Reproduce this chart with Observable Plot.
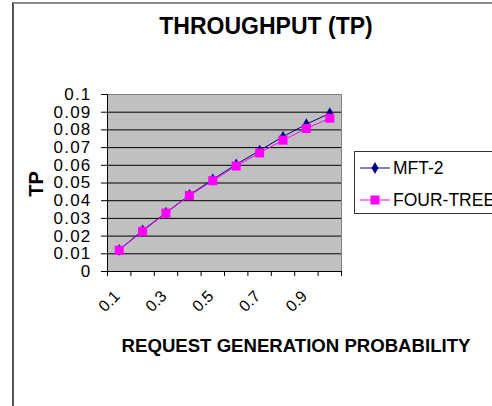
<!DOCTYPE html>
<html>
<head>
<meta charset="utf-8">
<script src="https://cdn.jsdelivr.net/npm/d3@7"></script>
<script src="https://cdn.jsdelivr.net/npm/@observablehq/plot@0.6"></script>
<style>
  html, body { margin: 0; padding: 0; background: #fff; }
  body { width: 492px; height: 406px; overflow: hidden; position: relative; font-family: "Liberation Sans", Arial, sans-serif; }
  #frame { position: absolute; left: 12px; top: 2px; width: 600px; height: 500px; border-left: 2px solid #555; border-top: 2px solid #8a8a8a; }
  #chart { position: absolute; left: 0; top: 0; }
  .txt { position: absolute; white-space: nowrap; color: #000; font-weight: bold; line-height: 1; }
  #title { font-size: 23px; left: 266px; top: 15px; transform: translateX(-50%); }
  #xlab { font-size: 18.6px; left: 296px; top: 337px; transform: translateX(-50%); }
  #ylab { font-size: 20px; left: 36px; top: 184px; transform: translate(-50%, -50%) rotate(-90deg); }
  #legend { position: absolute; left: 354px; top: 151px; width: 170px; height: 61px; border: 1px solid #333; background: #fff; }
  .item { position: absolute; left: 5px; height: 20px; display: flex; align-items: center; font-size: 17.5px; white-space: nowrap; }
  .item svg { margin-right: 3px; }
  g[aria-label="y-axis tick label"] text { letter-spacing: 1.2px; }
</style>
</head>
<body>
<div id="frame"></div>
<div id="chart"></div>
<div id="title" class="txt"></div>
<div id="xlab" class="txt"></div>
<div id="ylab" class="txt"></div>
<div id="legend"></div>
<script>
// ---- data ----
const titleText = "THROUGHPUT (TP)";
const xTitle = "REQUEST GENERATION PROBABILITY";
const yTitle = "TP";
const categories = [0.1, 0.2, 0.3, 0.4, 0.5, 0.6, 0.7, 0.8, 0.9, 1.0];
const seriesNames = ["MFT-2", "FOUR-TREE"];
const mft2 = [0.0122, 0.0232, 0.0332, 0.0432, 0.0520, 0.0605, 0.0683, 0.0762, 0.0832, 0.0894];
const fourTree = [0.0120, 0.0227, 0.0330, 0.0429, 0.0513, 0.0596, 0.0670, 0.0742, 0.0808, 0.0866];
const xTickLabels = ["0.1", "0.3", "0.5", "0.7", "0.9"];
const yTicks = [0, 0.01, 0.02, 0.03, 0.04, 0.05, 0.06, 0.07, 0.08, 0.09, 0.1];
const colors = ["#000080", "#ff00ff"];
const symbols = ["diamond", "square"];

// ---- build ----
const seriesValues = [mft2, fourTree];
const data = seriesNames.flatMap((name, s) =>
  categories.map((c, i) => ({series: name, x: c, y: seriesValues[s][i]})));
const half = (categories[1] - categories[0]) / 2;
const xDomain = [categories[0] - half, categories[categories.length - 1] + half];
const boundaries = [...categories.map(c => c - half), categories[categories.length - 1] + half];
const xLabelVals = xTickLabels.map(Number);

const marks = [
  Plot.frame({fill: "#c0c0c0", stroke: "#808080"}),
  Plot.gridY(yTicks.slice(1, -1), {stroke: "#000", strokeOpacity: 1, strokeWidth: 1}),
  Plot.axisY(yTicks, {tickSize: 6, tickPadding: 10, fontSize: 17, tickFormat: d => String(+d.toFixed(2)), stroke: "#000"}),
  Plot.axisX(boundaries, {tickSize: 5, tickFormat: () => "", stroke: "#000"}),
  Plot.axisX(xLabelVals, {tickSize: 0, tickPadding: 22, tickRotate: -45, fontSize: 16, dx: -2, tickFormat: (d, i) => xTickLabels[i]}),
  Plot.ruleX([xDomain[0]], {stroke: "#000"}),
  Plot.ruleY([yTicks[0]], {stroke: "#000"})
];
seriesNames.forEach((name, s) => {
  const d = data.filter(r => r.series === name);
  marks.push(Plot.line(d, {x: "x", y: "y", stroke: colors[s], strokeWidth: 1}));
  marks.push(Plot.dot(d, {x: "x", y: "y", fill: colors[s], stroke: "none", symbol: symbols[s], r: s === 0 ? 3.6 : 5.1}));
});

const chart = Plot.plot({
  width: 492,
  height: 406,
  marginLeft: 107,
  marginRight: 151,
  marginTop: 94,
  marginBottom: 135,
  style: {fontFamily: "'Liberation Sans', Arial, sans-serif", background: "transparent", color: "#000"},
  x: {type: "linear", domain: xDomain, label: null},
  y: {domain: [yTicks[0], yTicks[yTicks.length - 1]], label: null},
  marks
});
document.getElementById("chart").appendChild(chart);

document.getElementById("title").textContent = titleText;
document.getElementById("xlab").textContent = xTitle;
document.getElementById("ylab").textContent = yTitle;

// legend
const legend = document.getElementById("legend");
const rowTops = [6, 38];
seriesNames.forEach((name, s) => {
  const item = document.createElement("div");
  item.className = "item";
  item.style.top = rowTops[s] + "px";
  const svg = d3.create("svg").attr("width", 30).attr("height", 20);
  svg.append("line").attr("x1", 0).attr("x2", 30).attr("y1", 10).attr("y2", 10).attr("stroke", colors[s]).attr("stroke-width", 1);
  const sym = s === 0 ? d3.symbolDiamond : d3.symbolSquare;
  const size = s === 0 ? Math.PI * 3.6 * 3.6 : Math.PI * 5.1 * 5.1;
  svg.append("path").attr("d", d3.symbol(sym, size)()).attr("transform", "translate(15,10)").attr("fill", colors[s]);
  item.appendChild(svg.node());
  const span = document.createElement("span");
  span.textContent = name;
  item.appendChild(span);
  legend.appendChild(item);
});
</script>
</body>
</html>
